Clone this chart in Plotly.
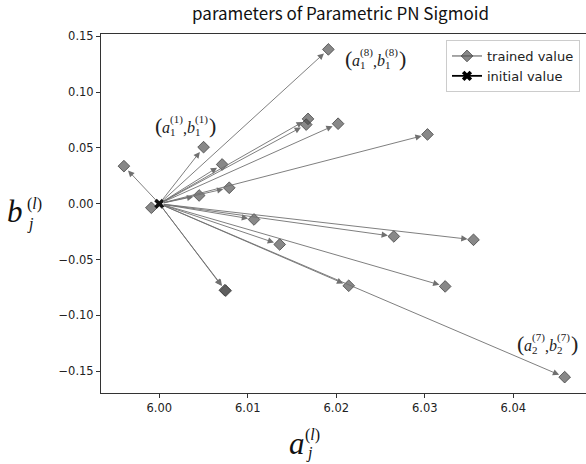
import math
import plotly.graph_objects as go

# ---------------- data ----------------
trained_a = [6.0191, 6.0168, 6.0166, 6.0202, 6.0050, 6.0071, 5.9960, 6.0079, 6.0045, 5.9991,
             6.0303, 6.0107, 6.0136, 6.0074, 6.0075, 6.0214, 6.0265, 6.0355, 6.0323, 6.0458]
trained_b = [0.1383, 0.0760, 0.0709, 0.0717, 0.0507, 0.0352, 0.0337, 0.0143, 0.0074, -0.0036,
             0.0621, -0.0141, -0.0365, -0.0775, -0.0779, -0.0735, -0.0293, -0.0323, -0.0741, -0.1554]
initial_a = [6.0]
initial_b = [0.0]
x_ticks = [6.00, 6.01, 6.02, 6.03, 6.04]
y_ticks = [-0.15, -0.10, -0.05, 0.00, 0.05, 0.10, 0.15]
x_tick_labels = [f"{v:.2f}" for v in x_ticks]
y_tick_labels = [f"{v:.2f}".replace("-", "\u2212") for v in y_ticks]
# labelled points: (layer index l, neuron index j, label anchor a, label anchor b)
label_l = ["8", "1", "7"]
label_j = ["1", "1", "2"]
label_a = [6.02076, 5.99929, 6.04019]
label_b = [0.1302, 0.0702, -0.1252]

title_text = "parameters of Parametric PN Sigmoid"

# ---------------- layout geometry ----------------
W, H = 586, 464
ML, MR, MT, MB = 101, 0, 34, 71
PW, PH = W - ML - MR, H - MT - MB
x_range = [5.99341, 6.04821]
y_range = [-0.1696, 0.1521]
sx = PW / (x_range[1] - x_range[0])
sy = PH / (y_range[1] - y_range[0])

def px(xp):
    return (xp - ML) / PW

def py(yp):
    return (H - MB - yp) / PH

SERIF = "Liberation Serif"
SANS = "DejaVu Sans"

fig = go.Figure()

# trained values
fig.add_trace(go.Scatter(
    x=trained_a, y=trained_b, mode="markers", showlegend=False,
    marker=dict(symbol="diamond", size=9, color="rgba(75,75,75,0.66)",
                line=dict(color="rgba(60,60,60,0.75)", width=1)),
))
# initial value
fig.add_trace(go.Scatter(
    x=initial_a, y=initial_b, mode="markers", showlegend=False,
    marker=dict(symbol="x", size=9, color="#111111", line=dict(width=0)),
))
# legend entries
fig.add_trace(go.Scatter(
    x=[None], y=[None], mode="lines+markers", name="trained value",
    line=dict(color="#8a8a8a", width=1.5),
    marker=dict(symbol="diamond", size=9, color="rgba(75,75,75,0.66)",
                line=dict(color="rgba(60,60,60,0.75)", width=1)),
))
fig.add_trace(go.Scatter(
    x=[None], y=[None], mode="lines+markers", name="initial value",
    line=dict(color="#000000", width=1.8),
    marker=dict(symbol="x", size=9, color="#000000", line=dict(width=0)),
))

annotations = []
# arrows from the initial value to every trained value
for a, b in zip(trained_a, trained_b):
    L = math.hypot((a - initial_a[0]) * sx, (b - initial_b[0]) * sy)
    if L < 12:
        continue
    annotations.append(dict(
        x=a, y=b, xref="x", yref="y", ax=initial_a[0], ay=initial_b[0],
        axref="x", ayref="y", text="", showarrow=True,
        arrowhead=2, arrowsize=1.4, arrowwidth=0.9, arrowcolor="#707070",
        standoff=6, startstandoff=3,
    ))

# point labels  (a_j^(l), b_j^(l))
for la, lb, l, j in zip(label_a, label_b, label_l, label_j):
    pieces = [
        ("(", 0, 0, 22, False),
        ("a", 7, -2, 16, True),
        ("(" + l + ")", 15, 6, 11, False),
        (j, 15, -7, 11, False),
        (",", 28, -3, 16, False),
        ("b", 32, -2, 16, True),
        ("(" + l + ")", 40, 6, 11, False),
        (j, 40, -7, 11, False),
        (")", 54, 0, 22, False),
    ]
    for t, dx, dy, sz, it in pieces:
        annotations.append(dict(
            x=la, y=lb, xref="x", yref="y", xanchor="left", yanchor="middle",
            xshift=dx, yshift=dy, showarrow=False,
            text=("<i>" + t + "</i>") if it else t,
            font=dict(family=SERIF, size=sz, color="#222222"),
        ))

# axis labels  a_j^(l)  and  b_j^(l)
def math_axis_label(base, left_x, base_mid_y, sup_left, sup_mid, sub_left, sub_mid):
    annotations.append(dict(x=px(left_x), y=py(base_mid_y), xref="paper", yref="paper",
                            xanchor="left", yanchor="middle", showarrow=False,
                            text="<i>" + base + "</i>",
                            font=dict(family=SERIF, size=31, color="#111111")))
    annotations.append(dict(x=px(sup_left), y=py(sup_mid), xref="paper", yref="paper",
                            xanchor="left", yanchor="middle", showarrow=False,
                            text="(<i>l</i>)",
                            font=dict(family=SERIF, size=16, color="#111111")))
    annotations.append(dict(x=px(sub_left), y=py(sub_mid), xref="paper", yref="paper",
                            xanchor="left", yanchor="middle", showarrow=False,
                            text="<i>j</i>",
                            font=dict(family=SERIF, size=16, color="#111111")))

math_axis_label("a", 287, 443, 303, 435, 304, 453)
math_axis_label("b", 5, 211, 25, 204, 25, 224)

fig.update_layout(
    width=W, height=H,
    margin=dict(l=ML, r=MR, t=MT, b=MB),
    paper_bgcolor="white", plot_bgcolor="white",
    title=dict(text=title_text, x=(340.5 - ML) / PW, xanchor="center", xref="paper",
               y=1 - 14.5 / H, yanchor="middle", yref="container",
               font=dict(family="Noto Sans CJK KR", size=17, color="#111111")),
    showlegend=True,
    legend=dict(x=px(580), xanchor="right", y=py(40), yanchor="top",
                bgcolor="white", bordercolor="#cccccc", borderwidth=1,
                font=dict(family=SANS, size=13, color="#222222"),
                tracegroupgap=0),
    annotations=annotations,
)
fig.update_xaxes(range=x_range, tickmode="array", tickvals=x_ticks, ticktext=x_tick_labels,
                 showgrid=False, zeroline=False, showline=True, linecolor="#333333",
                 linewidth=1, mirror=True, ticks="outside", ticklen=4, tickcolor="#333333",
                 tickfont=dict(family=SANS, size=11.5, color="#222222"))
fig.update_yaxes(range=y_range, tickmode="array", tickvals=y_ticks, ticktext=y_tick_labels,
                 showgrid=False, zeroline=False, showline=True, linecolor="#333333",
                 linewidth=1, ticks="outside", ticklen=4, tickcolor="#333333",
                 tickfont=dict(family=SANS, size=11.5, color="#222222"))

fig.write_html("out.html")
